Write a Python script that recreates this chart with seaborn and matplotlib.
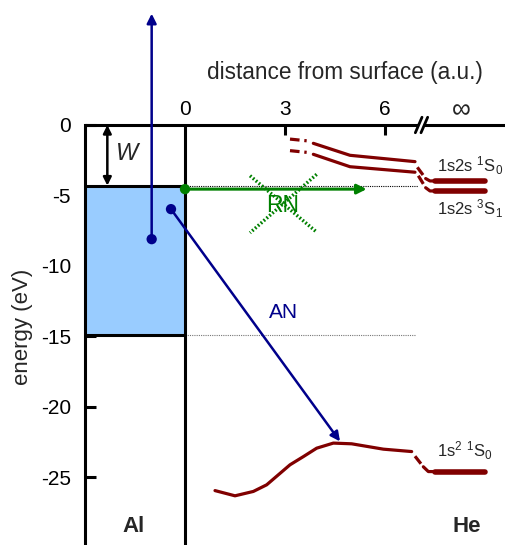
import numpy as np
import pandas as pd
import matplotlib
matplotlib.use("Agg")
import matplotlib.pyplot as plt
import seaborn as sns

# ---------------- data ----------------
y_ticks = [0, -5, -10, -15, -20, -25]
x_ticks = [0, 3, 6]
x_tick_labels = ["0", "3", "6"]
inf_pos = 8.3

work_fn = -4.3          # Fermi level / work function
band_bottom = -14.9     # bottom of Al conduction band

# 1s2s 1S0 state
s0_dash1_x = [3.15, 3.65]
s0_dash1_y = [-1.0, -1.12]
s0_x = [3.85, 4.95, 6.9]
s0_y = [-1.3, -2.15, -2.6]
s0_dash2_x = [6.97, 7.22]
s0_dash2_y = [-3.0, -3.8]
s0_bend_x = [7.22, 7.35, 7.5]
s0_bend_y = [-3.8, -3.97, -3.97]
s0_level = -3.97

# 1s2s 3S1 state
s1_dash1_x = [3.15, 3.65]
s1_dash1_y = [-1.82, -1.94]
s1_x = [3.85, 4.95, 6.9]
s1_y = [-2.08, -2.96, -3.35]
s1_dash2_x = [7.0, 7.22]
s1_dash2_y = [-3.6, -4.45]
s1_bend_x = [7.22, 7.35, 7.5]
s1_bend_y = [-4.45, -4.68, -4.68]
s1_level = -4.68

# 1s2 1S0 ground state
g_x = [0.9, 1.5, 2.05, 2.45, 3.15, 3.55, 3.95, 4.45, 5.0, 5.95, 6.8]
g_y = [-25.94, -26.31, -26.0, -25.53, -24.11, -23.53, -22.93, -22.57, -22.62, -23.0, -23.17]
g_dash_x = [6.9, 7.15]
g_dash_y = [-23.5, -24.25]
g_bend_x = [7.15, 7.3, 7.5]
g_bend_y = [-24.25, -24.59, -24.59]
g_level = -24.59
level_x = [7.5, 9.0]

# transitions
emit_start = (-1.0, -8.1)
emit_end = (-1.0, 7.9)
an_start = (-0.42, -5.97)
an_end = (4.65, -22.45)
rn_start = (0.0, -4.55)
rn_end = (5.45, -4.55)

# ---------------- style ----------------
sns.set_theme(style="white")
plt.rcParams["font.family"] = ["Liberation Sans", "DejaVu Sans"]
plt.rcParams["mathtext.fontset"] = "custom"
plt.rcParams["mathtext.rm"] = "Liberation Sans"
plt.rcParams["mathtext.it"] = "Liberation Sans:italic"

RED = "#800000"
BLUE = "#00008B"
GREEN = "#008000"
FS = 15

fig = plt.figure(figsize=(5.06, 5.45), dpi=100)
ax = fig.add_axes([85 / 506, 0, 421 / 506, 420 / 545])
ax.set_xlim(-3, 9.63)
ax.set_ylim(-29.8, 0)

for s in ["right", "bottom", "top"]:
    ax.spines[s].set_visible(False)
ax.spines["left"].set_linewidth(2.2)
ax.spines["left"].set_color("black")

# top axis line with break
ax.plot([-3, 7.0], [0, 0], color="black", lw=2.2, clip_on=False, solid_capstyle="butt")
ax.plot([7.18, 9.63], [0, 0], color="black", lw=2.2, clip_on=False, solid_capstyle="butt")
for bx in [6.98, 7.15]:
    ax.plot([bx - 0.07, bx + 0.13], [-0.55, 0.55], color="black", lw=2, clip_on=False)

# y ticks
ax.set_yticks(y_ticks)
ax.set_yticklabels([str(v) for v in y_ticks], fontsize=FS)
ax.tick_params(axis="y", direction="in", length=8, width=2.2, pad=10, colors="black", left=True)

# x ticks on top
ax.xaxis.tick_top()
ax.set_xticks(x_ticks + [inf_pos])
ax.set_xticklabels(x_tick_labels + [""], fontsize=FS)
ax.tick_params(axis="x", direction="in", length=7, width=2.2, pad=4, colors="black", top=True, bottom=False)
ticks = ax.xaxis.get_major_ticks()
ticks[0].tick2line.set_visible(False)
ticks[3].tick2line.set_visible(False)
ax.text(inf_pos, 1.05, "∞", fontsize=19, ha="center", va="center", clip_on=False)

fig.text(345 / 506, 1 - 73 / 545, "distance from surface (a.u.)", fontsize=16.3, ha="center", va="center")
fig.text(23 / 506, 1 - 327 / 545, "energy (eV)", fontsize=16, ha="center", va="center", rotation=90)

# metal: conduction band
ax.fill_between([-3, 0], band_bottom, work_fn, color="#99CCFF", zorder=1, lw=0)
ax.plot([-3, 0], [work_fn, work_fn], color="black", lw=2.2, zorder=3)
ax.plot([-3, 0], [band_bottom, band_bottom], color="black", lw=2.2, zorder=3)
ax.axvline(0, color="black", lw=2.2, zorder=3)

# dotted references
ax.plot([0, 7.0], [work_fn, work_fn], color="black", lw=0.8, ls=(0, (1, 1)), zorder=2)
ax.plot([0, 6.9], [band_bottom, band_bottom], color="#777777", lw=0.8, ls=(0, (1, 1)), zorder=2)

# work function arrow
ax.annotate("", xy=(-2.33, work_fn), xytext=(-2.33, 0),
            arrowprops=dict(arrowstyle="<|-|>", color="black", lw=1.8, mutation_scale=12,
                            shrinkA=0, shrinkB=0))
ax.text(-1.75, -2.0, "W", fontsize=17, style="italic", ha="center", va="center")

# He states via seaborn
def curve(xs, ys, lw=2.3, ls="-"):
    df = pd.DataFrame({"d": xs, "e": ys})
    sns.lineplot(data=df, x="d", y="e", sort=False, ax=ax, color=RED, lw=lw,
                 linestyle=ls, estimator=None, zorder=4)

dash = (0, (3, 1.5))
for dx1, dy1, sx, sy, dx2, dy2, bx, by, lev in [
        (s0_dash1_x, s0_dash1_y, s0_x, s0_y, s0_dash2_x, s0_dash2_y, s0_bend_x, s0_bend_y, s0_level),
        (s1_dash1_x, s1_dash1_y, s1_x, s1_y, s1_dash2_x, s1_dash2_y, s1_bend_x, s1_bend_y, s1_level)]:
    curve(dx1, dy1, ls=dash)
    curve(sx, sy, ls="-")
    curve(dx2, dy2, ls=dash)
    curve(bx, by)
    curve(level_x, [lev, lev], lw=4)

curve(g_x, g_y)
curve(g_dash_x, g_dash_y, ls=dash)
curve(g_bend_x, g_bend_y)
curve(level_x, [g_level, g_level], lw=4)
ax.set_xlabel("")
ax.set_ylabel("")

# state labels
ax.text(7.55, -3.31, r"1s2s $^{1}$S$_{0}$", fontsize=12, ha="left", va="baseline")
ax.text(7.55, -6.38, r"1s2s $^{3}$S$_{1}$", fontsize=12, ha="left", va="baseline")
ax.text(7.55, -23.52, r"1s$^{2}$ $^{1}$S$_{0}$", fontsize=12, ha="left", va="baseline")

# transitions
ax.annotate("", xy=emit_end, xytext=emit_start, annotation_clip=False,
            arrowprops=dict(arrowstyle="-|>", color=BLUE, lw=1.8, mutation_scale=14,
                            shrinkA=0, shrinkB=0), zorder=6)
ax.annotate("", xy=an_end, xytext=an_start,
            arrowprops=dict(arrowstyle="-|>", color=BLUE, lw=1.8, mutation_scale=14,
                            shrinkA=0, shrinkB=0), zorder=6)
ax.annotate("", xy=rn_end, xytext=rn_start,
            arrowprops=dict(arrowstyle="-|>", color=GREEN, lw=2.2, mutation_scale=14,
                            shrinkA=0, shrinkB=0), zorder=6)
dots = pd.DataFrame({"d": [emit_start[0], an_start[0], rn_start[0]],
                     "e": [emit_start[1], an_start[1], rn_start[1]],
                     "c": ["b", "b", "g"]})
sns.scatterplot(data=dots, x="d", y="e", hue="c", palette={"b": BLUE, "g": GREEN},
                s=55, edgecolor="none", legend=False, ax=ax, zorder=7, clip_on=False)
ax.set_xlabel("")
ax.set_ylabel("")

ax.text(2.95, -13.3, "AN", fontsize=FS, color=BLUE, ha="center", va="center")
ax.text(2.93, -5.7, "RN", fontsize=16.5, color=GREEN, ha="center", va="center", zorder=8)
ax.plot([1.95, 3.95], [-3.6, -7.6], color=GREEN, lw=2.5, ls=(0, (0.5, 0.6)), zorder=8)
ax.plot([3.95, 1.95], [-3.5, -7.65], color=GREEN, lw=2.5, ls=(0, (0.5, 0.6)), zorder=8)

ax.text(-1.55, -28.5, "Al", fontsize=16, fontweight="bold", ha="center", va="center")
ax.text(8.45, -28.5, "He", fontsize=16, fontweight="bold", ha="center", va="center")

fig.savefig("out.png", dpi=100)
